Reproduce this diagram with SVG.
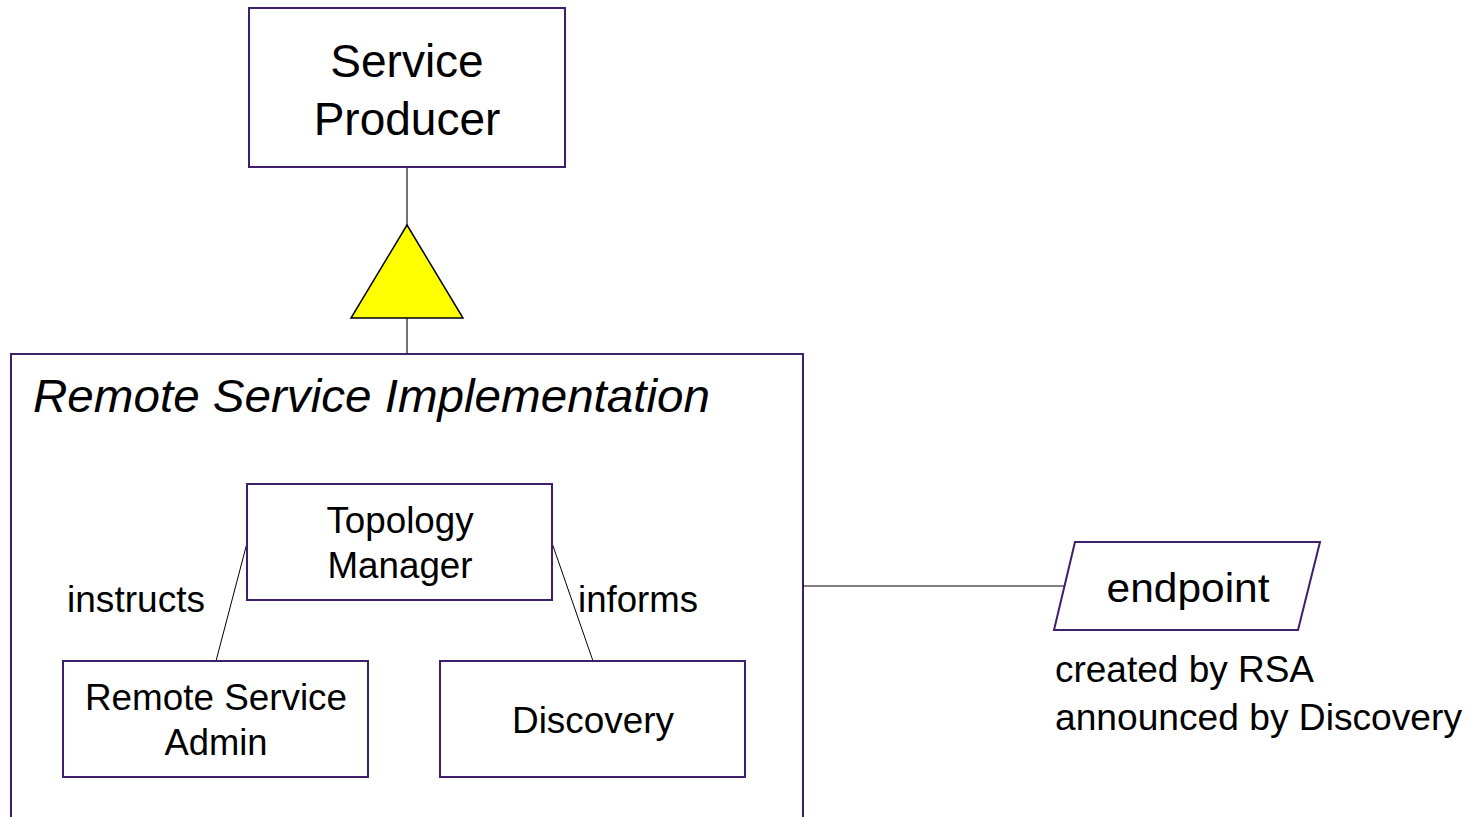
<svg xmlns="http://www.w3.org/2000/svg" width="1477" height="817" viewBox="0 0 1477 817">
<style>
.box{fill:#fff;stroke:#3e1f6c;stroke-width:2}
.ln{stroke:#000;stroke-width:1;fill:none}
.lg{stroke:#444;stroke-width:1.5;fill:none}
text{font-family:"Liberation Sans",Arial,sans-serif;fill:#000}
.c{text-anchor:middle}
</style>
<rect width="1477" height="817" fill="#fff"/>
<g id="remote-service-implementation">
<rect class="box" x="11" y="354" width="792" height="470"/>
<text x="33" y="412" font-size="46" font-style="italic" textLength="677" lengthAdjust="spacingAndGlyphs">Remote Service Implementation</text>
</g>
<g id="connectors">
<line class="lg" x1="407" y1="167" x2="407" y2="225"/>
<line class="lg" x1="407" y1="318" x2="407" y2="353"/>
<polygon points="407,225 463,318 351,318" fill="#ffff00" stroke="#000" stroke-width="1.5"/>
<line class="ln" x1="247" y1="543" x2="216" y2="661"/>
<line class="ln" x1="552" y1="543" x2="593" y2="661"/>
<line class="ln" x1="803" y1="586" x2="1065" y2="586"/>
<text x="67" y="612" font-size="36" textLength="138" lengthAdjust="spacingAndGlyphs">instructs</text>
<text x="578" y="612" font-size="36" textLength="120" lengthAdjust="spacingAndGlyphs">informs</text>
</g>
<g id="service-producer">
<rect class="box" x="249" y="8" width="316" height="159"/>
<text class="c" x="407" y="77" font-size="46">Service</text>
<text class="c" x="407" y="135" font-size="46">Producer</text>
</g>
<g id="topology-manager">
<rect class="box" x="247" y="484" width="305" height="116"/>
<text class="c" x="400" y="533" font-size="36" textLength="147" lengthAdjust="spacingAndGlyphs">Topology</text>
<text class="c" x="400" y="578" font-size="36" textLength="145" lengthAdjust="spacingAndGlyphs">Manager</text>
</g>
<g id="remote-service-admin">
<rect class="box" x="63" y="661" width="305" height="116"/>
<text class="c" x="216" y="710" font-size="36" textLength="262" lengthAdjust="spacingAndGlyphs">Remote Service</text>
<text class="c" x="216" y="755" font-size="36" textLength="103" lengthAdjust="spacingAndGlyphs">Admin</text>
</g>
<g id="discovery">
<rect class="box" x="440" y="661" width="305" height="116"/>
<text class="c" x="593" y="733" font-size="36" textLength="162" lengthAdjust="spacingAndGlyphs">Discovery</text>
</g>
<g id="endpoint">
<polygon class="box" points="1075,542 1320,542 1298,630 1054,630"/>
<text class="c" x="1188" y="602" font-size="40" textLength="163" lengthAdjust="spacingAndGlyphs">endpoint</text>
<text x="1055" y="682" font-size="36" textLength="259" lengthAdjust="spacingAndGlyphs">created by RSA</text>
<text x="1055" y="730" font-size="36" textLength="407" lengthAdjust="spacingAndGlyphs">announced by Discovery</text>
</g>
</svg>
